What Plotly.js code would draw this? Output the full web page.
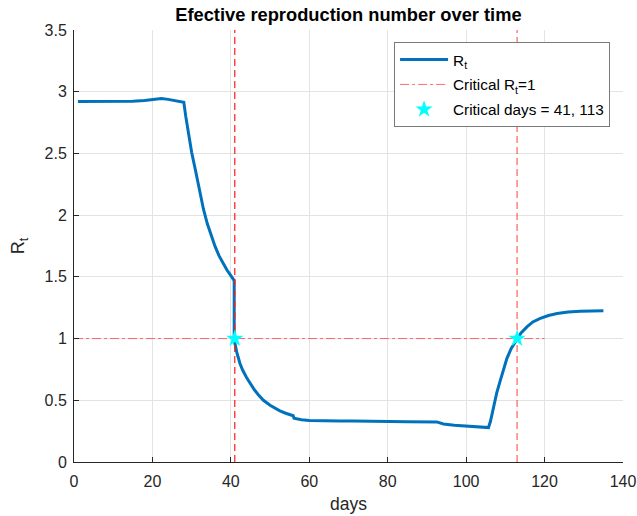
<!DOCTYPE html>
<html>
<head>
<meta charset="utf-8">
<script src="https://cdn.plot.ly/plotly-3.0.1.min.js"></script>
<style>html,body{margin:0;padding:0;background:#fff;}#chart{width:637px;height:516px;}</style>
</head>
<body>
<div id="chart"></div>
<script>
const days = [1,5,10,15,18,20,22.3,24,26,28,28.5,29,29.5,30,31,32,33,34,35,36,37,38,39,40,40.6,40.85,40.85,41.5,42.3,43,44,44.9,46,47,48.3,50,52.5,54,55.5,55.9,56.1,58,60,63,67.8,71.2,78,85,92.5,94.2,97,100.2,103,105.7,106.2,106.6,107,107.8,108.7,109.5,110.4,111.5,112.9,114,115.5,117,118.9,121,123.2,126,129.1,132,135];
const rt   = [2.92,2.92,2.92,2.922,2.928,2.935,2.944,2.938,2.928,2.915,2.80,2.70,2.60,2.51,2.36,2.20,2.05,1.93,1.83,1.745,1.67,1.61,1.555,1.51,1.487,1.47,0.99,0.89,0.80,0.745,0.685,0.636,0.585,0.545,0.50,0.46,0.415,0.395,0.38,0.375,0.355,0.343,0.337,0.334,0.333,0.333,0.327,0.326,0.325,0.308,0.298,0.29,0.284,0.279,0.33,0.39,0.45,0.56,0.66,0.75,0.84,0.92,0.99,1.045,1.095,1.135,1.163,1.187,1.203,1.215,1.222,1.224,1.225];
const critLineX = [0, 120];
const critLineY = [1, 1];
const critDays = [41, 113];
const critVals = [1, 1];
const yRange = [0, 3.5];
const xTicks = [0,20,40,60,80,100,120,140];
const yTicks = [0,0.5,1,1.5,2,2.5,3,3.5];

const font = 'Liberation Sans, Arial, Helvetica, sans-serif';
const traces = [
  {x: days, y: rt, mode: 'lines', name: 'R<sub>t</sub>', legendgroup: 'a',
   line: {color: '#0072BD', width: 3}},
  {x: critLineX, y: critLineY, mode: 'lines', name: 'Critical R<sub>t</sub>=1', legendgroup: 'b',
   line: {color: 'rgba(255,60,60,0.75)', width: 1, dash: 'dashdot'}},
  {x: [critDays[0], critDays[0]], y: yRange, mode: 'lines', showlegend: false, hoverinfo: 'skip',
   line: {color: '#ff1a1a', width: 1.2, dash: '7px,4px'}},
  {x: [critDays[1], critDays[1]], y: yRange, mode: 'lines', showlegend: false, hoverinfo: 'skip',
   line: {color: 'rgba(255,60,60,0.65)', width: 1.5, dash: '7px,4px'}},
  {x: critDays, y: critVals, mode: 'markers', name: 'Critical days = 41, 113', legendgroup: 'c',
   marker: {symbol: 'star', color: '#00FFFF', size: 13, line: {width: 0}}}
];

const axisCommon = {
  showgrid: true, gridcolor: '#e3e3e3', gridwidth: 1,
  showline: true, linecolor: '#262626', linewidth: 1,
  ticks: 'inside', ticklen: 5, tickcolor: '#262626',
  tickfont: {family: font, size: 16, color: '#262626'},
  zeroline: false, mirror: false
};

const layout = {
  width: 637, height: 516,
  margin: {l: 74, r: 14, t: 30, b: 54},
  paper_bgcolor: '#fff', plot_bgcolor: '#fff',
  font: {family: font, color: '#262626'},
  title: {text: '<b>Efective reproduction number over time</b>', font: {family: font, size: 18.3, color: '#000'},
          x: 0.547, xanchor: 'center', y: 0.972, yanchor: 'middle'},
  xaxis: Object.assign({}, axisCommon, {range: [0, 140], tickvals: xTicks, ticklabelstandoff: 5,
          title: {text: 'days', font: {family: font, size: 17.5, color: '#262626'}, standoff: 8}}),
  yaxis: Object.assign({}, axisCommon, {range: yRange, tickvals: yTicks, ticklabelstandoff: 3,
          title: {text: 'R<sub>t</sub>', font: {family: font, size: 18, color: '#262626'}, standoff: 15}}),
  showlegend: true,
  legend: {x: 0.583, y: 0.972, xanchor: 'left', yanchor: 'top',
           bgcolor: '#fff', bordercolor: '#7a7a7a', borderwidth: 1,
           font: {family: font, size: 15.3, color: '#000'},
           traceorder: 'grouped', tracegroupgap: 2, itemwidth: 48}
};

Plotly.newPlot('chart', traces, layout, {displayModeBar: false, staticPlot: true});
</script>
</body>
</html>
